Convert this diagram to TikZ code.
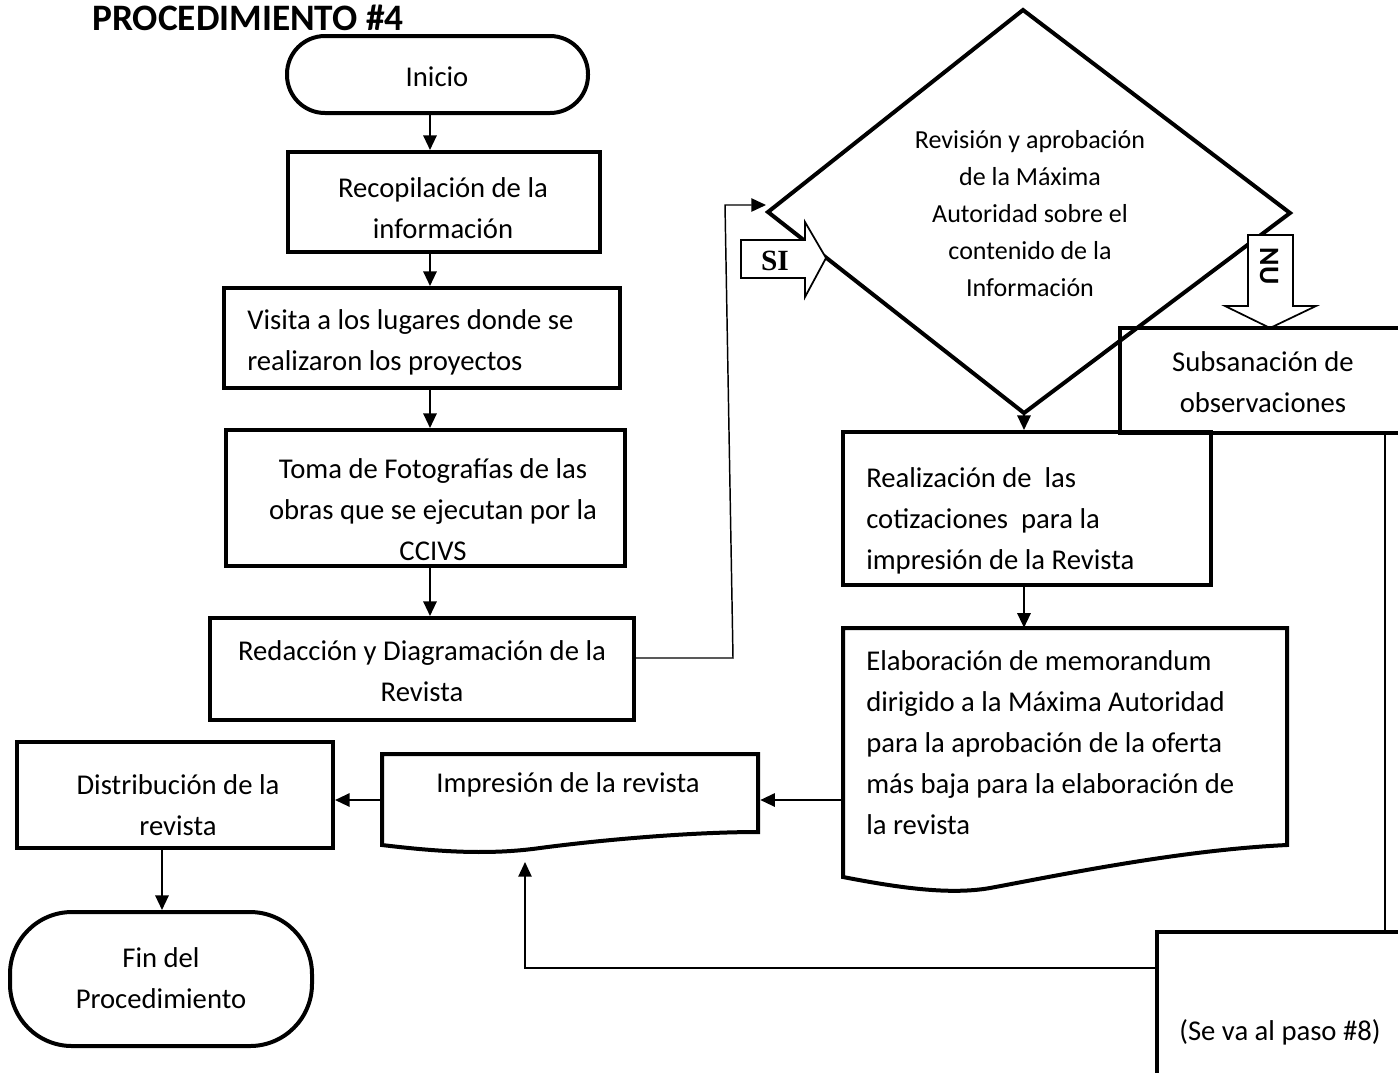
\documentclass[tikz,border=0pt]{standalone}
\usepackage{fontspec}
\setmainfont{Carlito}
\newfontfamily\siserif{Liberation Serif}
\usetikzlibrary{arrows.meta}
\def\pxu{0.75pt}
\begin{document}
\begin{tikzpicture}[x=0.75pt,y=-0.75pt,
  box/.style={draw,line width=3pt,inner sep=0pt,rectangle},
  ghost/.style={inner sep=0pt,rectangle},
  txt/.style={font=\fontsize{21.5pt}{30.75pt}\selectfont,inner sep=0pt,align=center},
  ltxt/.style={font=\fontsize{21.5pt}{30.75pt}\selectfont,inner sep=0pt,align=left,anchor=west},
  dtxt/.style={font=\fontsize{19.5pt}{27.75pt}\selectfont,inner sep=0pt,align=center},
  arr/.style={line width=1.6pt,-{Triangle[length=11pt,width=10pt]}},
  tarr/.style={line width=1.1pt,-{Triangle[length=11pt,width=10pt]}},
  con/.style={line width=1.1pt},
  docline/.style={line width=3pt,fill=white},
  blockarr/.style={line width=1.3pt,fill=white,line join=miter},
]
\useasboundingbox (0,0) rectangle (1398,1072);
\clip (0,0) rectangle (1398,1072);

% title
\node[anchor=base west,inner sep=0pt,font=\fontsize{28pt}{30pt}\selectfont\bfseries] (title) at (92,30) {PROCEDIMIENTO \#4};

% left column
\node[box,minimum width=301*\pxu,minimum height=77*\pxu,rounded corners=38*\pxu] (inicio) at (437.5,74.5) {};
\node[txt] (tinicio) at (437,77) {Inicio};

\node[box,minimum width=312*\pxu,minimum height=100*\pxu] (recop) at (444,202) {};
\node[txt] (trecop) at (443,208) {Recopilación de la\\información};

\node[box,minimum width=396*\pxu,minimum height=100*\pxu] (visita) at (422,338) {};
\node[ltxt] (tvisita) at (247,342) {Visita a los lugares donde se\\realizaron los proyectos};

\node[box,minimum width=399*\pxu,minimum height=136*\pxu] (toma) at (425.5,498) {};
\node[txt] (ttoma) at (433,510) {Toma de Fotografías de las\\obras que se ejecutan por la\\CCIVS};

\node[box,minimum width=424*\pxu,minimum height=102*\pxu] (redac) at (422,669) {};
\node[txt] (tredac) at (422,671) {Redacción y Diagramación de la\\Revista};

\coordinate (cx) at (430,0);
\draw[arr] (inicio.south -| cx) -- (recop.north -| cx);
\draw[arr] (recop.south -| cx) -- (visita.north -| cx);
\draw[arr] (visita.south -| cx) -- (toma.north -| cx);
\draw[arr] (toma.south -| cx) -- (redac.north -| cx);

% diamond
\coordinate (dT) at (1023,10);
\coordinate (dL) at (768,212);
\coordinate (dR) at (1290,213);
\coordinate (dB) at (1024,413);
\draw[line width=3pt,line join=miter] (dL) -- (dT) -- (dR) -- (dB) -- cycle;
\node[dtxt] (tdiam) at (1030,214) {Revisión y aprobación\\de la Máxima\\Autoridad sobre el\\contenido de la\\Información};

% connector redaccion -> diamond
\coordinate (rj1) at (733,658);
\coordinate (rj2) at (725,205);
\coordinate (rj3) at (766,205);
\draw[tarr] (redac.east |- rj1) -- (rj1) -- (rj2) -- (rj3);

% SI block arrow
\draw[blockarr] (741,240) -- (805,240) -- (805,222) -- (826,258) -- (805,297) -- (805,278) -- (741,278) -- cycle;
\node[inner sep=0pt,font=\siserif\fontsize{22pt}{24pt}\selectfont\bfseries] (si) at (775,261) {SI};

% NU block arrow
\draw[blockarr] (1248,235) -- (1293,235) -- (1293,306) -- (1316,306) -- (1270,328) -- (1225,306) -- (1248,306) -- cycle;
\node[inner sep=0pt,rotate=-90,font=\fontsize{21pt}{22pt}\selectfont\bfseries] (nu) at (1269,266) {NU};

% subsanacion
\node[box,minimum width=290*\pxu,minimum height=105*\pxu] (subs) at (1265,380.5) {};
\node[txt] (tsubs) at (1263,382) {Subsanación de\\observaciones};

% realizacion
\node[box,minimum width=368*\pxu,minimum height=153*\pxu] (realiz) at (1027,508.5) {};
\node[ltxt] (trealiz) at (866,521) {Realización de\ \ las\\cotizaciones\ \ para la\\impresión de la Revista};

\coordinate (dx) at (1024,0);
\draw[arr] (dB) -- (realiz.north -| dx);

% elaboracion (document)
\node[ghost,minimum width=444*\pxu,minimum height=262*\pxu] (elab) at (1065,759) {};
\draw[docline] (843,877) -- (843,628) -- (1287,628) -- (1287,845)
  .. controls (1180,850) and (1060,875) .. (990,888)
  .. controls (950,895) and (900,888) .. (843,877) -- cycle;
\node[ltxt] (telab) at (866,743) {Elaboración de memorandum\\dirigido a la Máxima Autoridad\\para la aprobación de la oferta\\más baja para la elaboración de\\la revista};
\draw[arr] (realiz.south -| dx) -- (elab.north -| dx);

% impresion (document)
\node[ghost,minimum width=376*\pxu,minimum height=92*\pxu] (imp) at (570,800) {};
\draw[docline] (382,845) -- (382,754) -- (758,754) -- (758,832)
  .. controls (690,832) and (600,840) .. (540,848)
  .. controls (490,855) and (440,852) .. (382,845) -- cycle;
\node[txt] (timp) at (568,785) {Impresión de la revista};
\draw[arr] (elab.west |- imp.east) -- ([xshift=1.5pt]imp.east);

% distribucion
\node[box,minimum width=316*\pxu,minimum height=106*\pxu] (dist) at (175,795) {};
\node[txt] (tdist) at (178,805) {Distribución de la\\revista};
\draw[arr] (imp.west) -- (dist.east |- imp.west);

% fin
\node[box,minimum width=302*\pxu,minimum height=134*\pxu,rounded corners=62*\pxu] (fin) at (161,979) {};
\node[txt] (tfin) at (161,978) {Fin del\\Procedimiento};
\coordinate (fx) at (162,0);
\draw[arr] (dist.south -| fx) -- (fin.north -| fx);

% paso box
\node[box,minimum width=253*\pxu,minimum height=153*\pxu] (paso) at (1283.5,1008.5) {};
\node[txt] (tpaso) at (1280,1032) {(Se va al paso \#8)};

% connectors on the right
\coordinate (sx) at (1385,0);
\draw[con] (subs.south -| sx) -- (paso.north -| sx);
\coordinate (turn) at (525,968);
\coordinate (impb) at (525,862);
\draw[tarr] (paso.west |- turn) -- (turn) -- (impb);
\end{tikzpicture}
\end{document}
